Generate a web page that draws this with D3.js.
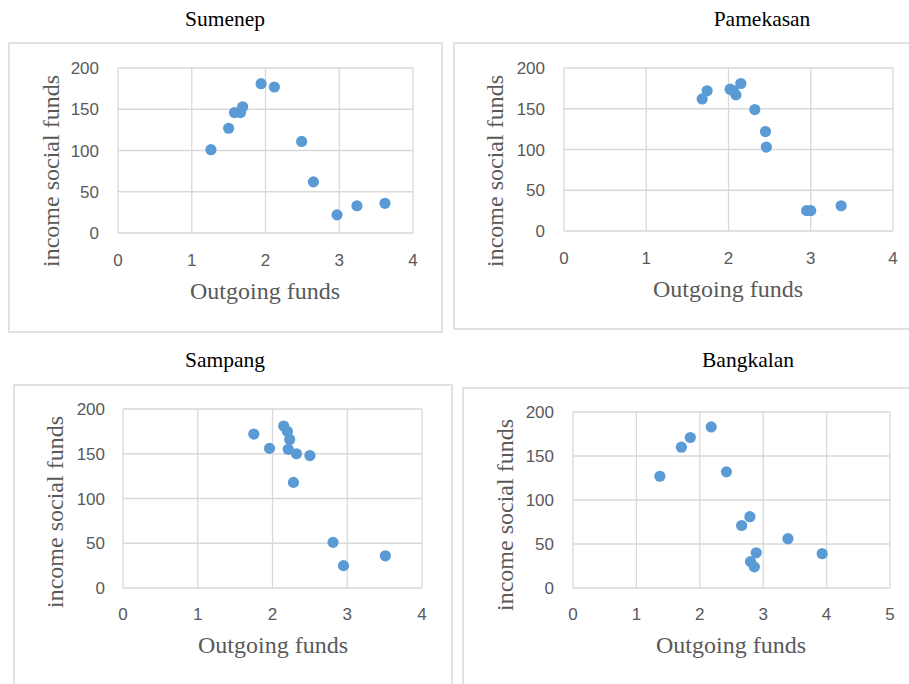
<!DOCTYPE html>
<html>
<head>
<meta charset="utf-8">
<script src="https://cdn.jsdelivr.net/npm/d3@7"></script>
<style>
  body { margin: 0; background: #fff; }
  .grid line { stroke: #d9d9d9; stroke-width: 1.3; }
  .tick-label { font-family: "Liberation Sans", Arial, sans-serif; font-size: 17px; fill: #595959; }
  .axis-title { font-family: "Liberation Serif", "Times New Roman", serif; font-size: 24px; fill: #595959; }
  .chart-title { font-family: "Liberation Serif", "Times New Roman", serif; font-size: 21.5px; fill: #000; }
</style>
</head>
<body>
<div id="chart"></div>
<script>
// data
const regions = ["Sumenep", "Pamekasan", "Sampang", "Bangkalan"];

const sumenepX = [1.26, 1.50, 1.58, 1.66, 1.69, 1.94, 2.12, 2.49, 2.65, 2.97, 3.24, 3.62];
const sumenepY = [101, 127, 146, 146, 153, 181, 177, 111, 62, 22, 33, 36];

const pamekasanX = [1.68, 1.74, 2.02, 2.06, 2.09, 2.15, 2.32, 2.45, 2.46, 2.95, 3.00, 3.37];
const pamekasanY = [162, 172, 174, 172, 167, 181, 149, 122, 103, 25, 25, 31];

const sampangX = [1.75, 1.96, 2.15, 2.20, 2.23, 2.21, 2.32, 2.50, 2.28, 2.81, 2.95, 3.51];
const sampangY = [172, 156, 181, 175, 166, 155, 150, 148, 118, 51, 25, 36];

const bangkalanX = [1.37, 1.71, 1.85, 2.18, 2.42, 2.66, 2.79, 3.39, 2.89, 2.80, 2.86, 3.93];
const bangkalanY = [127, 160, 171, 183, 132, 71, 81, 56, 40, 30, 24, 39];

const yTicks = [0, 50, 100, 150, 200];
const xTicks4 = [0, 1, 2, 3, 4];
const xTicks5 = [0, 1, 2, 3, 4, 5];

const xLabel = "Outgoing funds";
const yLabel = "income social funds";

// layout of each panel on the page
const panels = [
  { name: regions[0], xs: sumenepX, ys: sumenepY, xTicks: xTicks4,
    box: [9, 43, 442, 332], plot: [118, 68, 413, 233], titleX: 225, titleY: 26,
    xTickY: 266, yTickX: 99, xTitle: [265, 299], yTitle: [59, 171] },
  { name: regions[1], xs: pamekasanX, ys: pamekasanY, xTicks: xTicks4,
    box: [454, 43, 915, 329], plot: [564, 68, 893, 231], titleX: 762, titleY: 26,
    xTickY: 264, yTickX: 545, xTitle: [728, 297], yTitle: [503, 171] },
  { name: regions[2], xs: sampangX, ys: sampangY, xTicks: xTicks4,
    box: [14, 385, 452, 695], plot: [123, 409, 422, 588], titleX: 225, titleY: 367,
    xTickY: 620, yTickX: 105, xTitle: [273, 653], yTitle: [63, 512] },
  { name: regions[3], xs: bangkalanX, ys: bangkalanY, xTicks: xTicks5,
    box: [463, 388, 915, 695], plot: [573, 412, 890, 588], titleX: 748, titleY: 367,
    xTickY: 620, yTickX: 554, xTitle: [731, 653], yTitle: [513, 515] }
];

const svg = d3.select("#chart").append("svg")
  .attr("width", 909)
  .attr("height", 684);

panels.forEach(p => {
  const g = svg.append("g");
  const [bx0, by0, bx1, by1] = p.box;
  const [px0, py0, px1, py1] = p.plot;

  // outer chart border
  g.append("rect")
    .attr("x", bx0).attr("y", by0)
    .attr("width", bx1 - bx0).attr("height", by1 - by0)
    .attr("fill", "#fff")
    .attr("stroke", "#d9d9d9")
    .attr("stroke-width", 1.5);

  const x = d3.scaleLinear()
    .domain([0, d3.max(p.xTicks)])
    .range([px0, px1]);
  const y = d3.scaleLinear()
    .domain([0, 200])
    .range([py1, py0]);

  // gridlines
  const grid = g.append("g").attr("class", "grid");
  grid.selectAll(".hg").data(yTicks).enter().append("line")
    .attr("x1", px0).attr("x2", px1)
    .attr("y1", d => y(d)).attr("y2", d => y(d));
  grid.selectAll(".vg").data(p.xTicks).enter().append("line")
    .attr("y1", py0).attr("y2", py1)
    .attr("x1", d => x(d)).attr("x2", d => x(d));

  // tick labels
  g.selectAll(".yt").data(yTicks).enter().append("text")
    .attr("class", "tick-label")
    .attr("x", p.yTickX)
    .attr("y", d => y(d))
    .attr("dy", "0.36em")
    .attr("text-anchor", "end")
    .text(d => d);
  g.selectAll(".xt").data(p.xTicks).enter().append("text")
    .attr("class", "tick-label")
    .attr("x", d => x(d))
    .attr("y", p.xTickY)
    .attr("text-anchor", "middle")
    .text(d => d);

  // points
  const pts = p.xs.map((v, i) => ({ x: v, y: p.ys[i] }));
  g.selectAll(".dot").data(pts).enter().append("circle")
    .attr("cx", d => x(d.x))
    .attr("cy", d => y(d.y))
    .attr("r", 5.6)
    .attr("fill", "#5b9bd5");

  // titles
  g.append("text")
    .attr("class", "chart-title")
    .attr("x", p.titleX).attr("y", p.titleY)
    .attr("text-anchor", "middle")
    .text(p.name);
  g.append("text")
    .attr("class", "axis-title")
    .attr("x", p.xTitle[0]).attr("y", p.xTitle[1])
    .attr("text-anchor", "middle")
    .text(xLabel);
  g.append("text")
    .attr("class", "axis-title")
    .attr("transform", `translate(${p.yTitle[0]},${p.yTitle[1]}) rotate(-90)`)
    .attr("text-anchor", "middle")
    .text(yLabel);
});
</script>
</body>
</html>
